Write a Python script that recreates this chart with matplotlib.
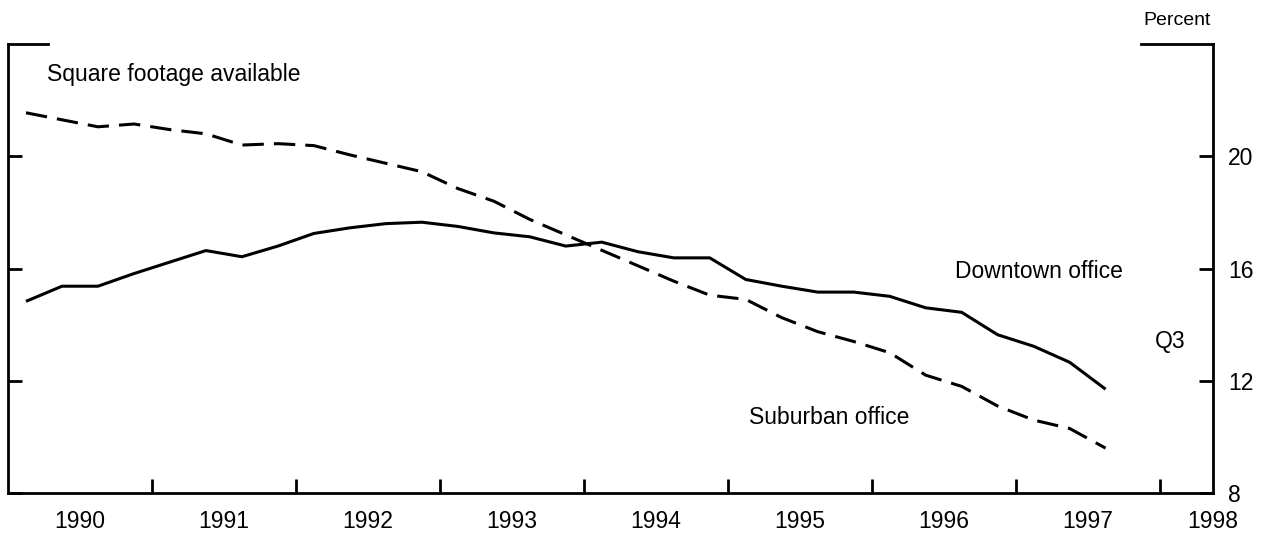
import numpy as np
import matplotlib
matplotlib.use("Agg")
import matplotlib.pyplot as plt

plt.rcParams['font.family'] = ['Liberation Sans', 'DejaVu Sans']

# quarterly vacancy rates, 1990Q1 .. 1997Q3 (percent)
quarters = 1990.125 + 0.25 * np.arange(31)
downtown = [14.83, 15.37, 15.37, 15.82, 16.23, 16.64, 16.42, 16.8,
            17.25, 17.45, 17.6, 17.65, 17.5, 17.27, 17.13, 16.8,
            16.94, 16.6, 16.38, 16.38, 15.61, 15.37, 15.16, 15.16,
            15.01, 14.6, 14.44, 13.64, 13.23, 12.66, 11.7]
suburban = [21.55, 21.3, 21.05, 21.15, 20.95, 20.8, 20.4, 20.45,
            20.38, 20.05, 19.75, 19.45, 18.85, 18.4, 17.75, 17.2,
            16.65, 16.1, 15.55, 15.05, 14.9, 14.25, 13.75, 13.4,
            13.0, 12.2, 11.8, 11.1, 10.6, 10.3, 9.6]

year_ticks = [1991, 1992, 1993, 1994, 1995, 1996, 1997, 1998]
year_label_pos = [1990.5, 1991.5, 1992.5, 1993.5, 1994.5, 1995.5, 1996.5, 1997.5, 1998.37]
year_labels = ['1990', '1991', '1992', '1993', '1994', '1995', '1996', '1997', '1998']
pct_ticks = [8, 12, 16, 20]
pct_labels = ['', '12', '16', '20']

fig = plt.figure(figsize=(12.7, 5.33), dpi=100)
ax = fig.add_axes([0.0063, 0.075, 0.9487, 0.8424])

ax.plot(quarters, downtown, color='black', lw=2.2, solid_capstyle='butt')
ax.plot(quarters, suburban, color='black', lw=2.2, dashes=(7, 3.3))

ax.set_xlim(1990.0, 1998.37)
ax.set_ylim(8, 24)

for side in ['left', 'right', 'bottom']:
    ax.spines[side].set_linewidth(2)
ax.spines['top'].set_visible(False)
# short corner pieces of the top frame
ax.plot([0, 0.033], [1, 1], transform=ax.transAxes, color='black', lw=2, clip_on=False)
ax.plot([0.94, 1], [1, 1], transform=ax.transAxes, color='black', lw=2, clip_on=False)

ax.set_yticks(pct_ticks, labels=pct_labels)
ax.tick_params(axis='y', left=True, right=True, labelleft=False, labelright=True,
               direction='in', length=10, width=2, pad=11, labelsize=16.5)
# bottom label sits just below the corner, above the 1998 label
ax.annotate('8', xy=(1.0, 8), xycoords=ax.get_yaxis_transform(), xytext=(11, -2),
            textcoords='offset points', ha='left', va='center', fontsize=16.5)

ax.set_xticks(year_ticks)
ax.set_xticklabels([])
ax.set_xticks(year_label_pos, labels=year_labels, minor=True)
ax.tick_params(axis='x', which='major', direction='in', length=10, width=2)
ax.tick_params(axis='x', which='minor', length=0, pad=12, labelsize=16.5)

ax.text(1990.27, 22.9, 'Square footage available', fontsize=16.5, va='center')
ax.text(1996.58, 15.9, 'Downtown office', fontsize=16.5, va='center')
ax.text(1995.15, 10.7, 'Suburban office', fontsize=16.5, va='center')
ax.text(1997.97, 13.4, 'Q3', fontsize=16.5, va='center')
ax.text(0.998, 1.053, 'Percent', transform=ax.transAxes, fontsize=14, ha='right', va='center')

fig.savefig('out.png', dpi=100)
